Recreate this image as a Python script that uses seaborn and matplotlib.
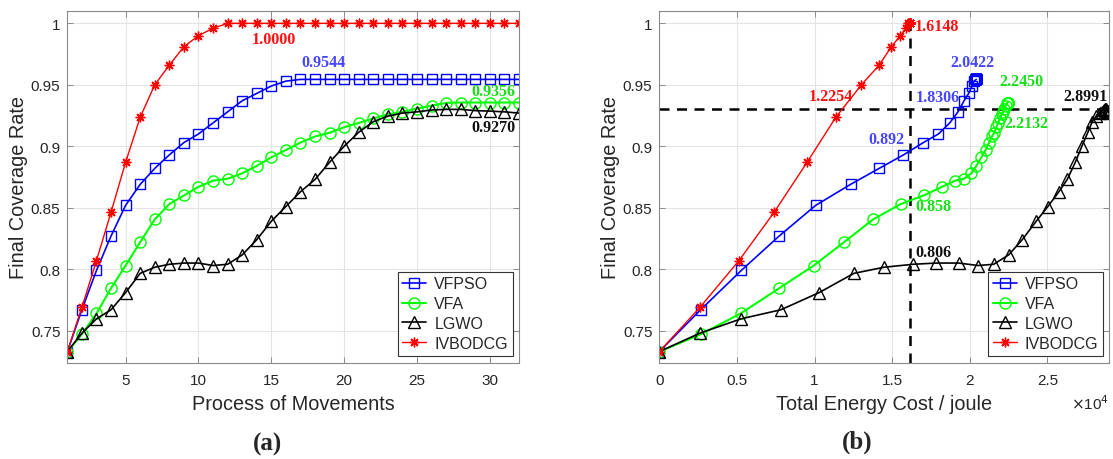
import matplotlib
matplotlib.use("Agg")
import matplotlib.pyplot as plt
import seaborn as sns
import pandas as pd

# ---------------- data ----------------
algorithms = ["VFPSO", "VFA", "LGWO", "IVBODCG"]
movements = list(range(1, 33))

vfpso_cov = [0.733, 0.767, 0.799, 0.827, 0.852, 0.869, 0.882, 0.893, 0.903, 0.910,
             0.919, 0.928, 0.937, 0.943, 0.949, 0.953] + [0.9544] * 16
vfa_cov = [0.733, 0.747, 0.764, 0.7845, 0.803, 0.822, 0.8405, 0.853, 0.860, 0.867,
           0.872, 0.8736, 0.878, 0.884, 0.891, 0.897, 0.903, 0.908, 0.911, 0.9155,
           0.919, 0.9226, 0.926, 0.928, 0.9307, 0.933, 0.9353, 0.9356, 0.9356, 0.9356,
           0.9356, 0.9356]
lgwo_cov = [0.733, 0.748, 0.7596, 0.767, 0.781, 0.7966, 0.8016, 0.804, 0.805, 0.805,
            0.803, 0.804, 0.8116, 0.824, 0.839, 0.851, 0.863, 0.873, 0.887, 0.900,
            0.9114, 0.920, 0.9245, 0.927, 0.928, 0.9295, 0.930, 0.930, 0.929, 0.9286,
            0.928, 0.927]
ivbodcg_cov = [0.733, 0.769, 0.807, 0.8464, 0.887, 0.9236, 0.950, 0.966, 0.981, 0.990,
               0.996] + [1.0] * 21

# total energy cost (x 10^4 joule)
vfpso_energy = [0, 0.266, 0.528, 0.772, 1.008, 1.232, 1.416, 1.573, 1.701, 1.798,
                1.871, 1.924, 1.963, 1.993, 2.014, 2.027] + [2.0422] * 16
vfa_energy = [0, 0.266, 0.524, 0.772, 0.995, 1.19, 1.377, 1.555, 1.703, 1.821,
              1.905, 1.963, 2.010, 2.042, 2.075, 2.102, 2.124, 2.143, 2.158, 2.171,
              2.182, 2.195, 2.205, 2.214, 2.222, 2.231, 2.239, 2.245, 2.245, 2.245,
              2.245, 2.245]
lgwo_energy = [0, 0.262, 0.526, 0.783, 1.030, 1.253, 1.448, 1.634, 1.785, 1.929,
               2.053, 2.154, 2.250, 2.338, 2.428, 2.503, 2.574, 2.628, 2.680, 2.722,
               2.761, 2.789, 2.815, 2.836, 2.852, 2.864, 2.873, 2.880, 2.886, 2.891,
               2.896, 2.8991]
ivbodcg_energy = [0, 0.262, 0.513, 0.74, 0.952, 1.137, 1.302, 1.416, 1.495, 1.553,
                  1.588, 1.605] + [1.6148] * 20

ref_coverage = 0.93
ref_energy = 1.6148

left_notes = ["1.0000", "0.9544", "0.9356", "0.9270"]
right_notes = ["1.6148", "1.2254", "2.0422", "1.8306", "0.892",
               "2.2450", "2.2132", "0.858", "2.8991", "0.806"]

x_ticks_a = [5, 10, 15, 20, 25, 30]
x_ticks_b = [0, 0.5, 1, 1.5, 2, 2.5]
y_ticks = [0.75, 0.8, 0.85, 0.9, 0.95, 1]

# ---------------- styling ----------------
sns.set_theme(style="whitegrid")
plt.rcParams["font.family"] = ["Liberation Sans", "DejaVu Sans"]

colors = {"VFPSO": "#0000ff", "VFA": "#00ff00", "LGWO": "#000000", "IVBODCG": "#ff0000"}
text_colors = {"VFPSO": "#4646ff", "VFA": "#18e018", "LGWO": "#111111", "IVBODCG": "#ff1010"}
markers = {"VFPSO": "s", "VFA": "o", "LGWO": "^", "IVBODCG": (8, 2, 0)}
msizes = {"VFPSO": 6.5, "VFA": 8, "LGWO": 8.5, "IVBODCG": 7}
lws = {"VFPSO": 1.2, "VFA": 1.5, "LGWO": 1.2, "IVBODCG": 1.0}

cov = {"VFPSO": vfpso_cov, "VFA": vfa_cov, "LGWO": lgwo_cov, "IVBODCG": ivbodcg_cov}
energy = {"VFPSO": vfpso_energy, "VFA": vfa_energy, "LGWO": lgwo_energy,
          "IVBODCG": ivbodcg_energy}

fig = plt.figure(figsize=(11.13, 4.60), dpi=100)
axA = fig.add_axes([0.0605, 0.2087, 0.4058, 0.7659])
axB = fig.add_axes([0.5924, 0.2087, 0.4043, 0.7659])


def draw(ax, xs):
    for name in algorithms:
        df = pd.DataFrame({"x": xs[name], "y": cov[name]})
        mfc = colors[name] if name == "IVBODCG" else "none"
        sns.lineplot(data=df, x="x", y="y", ax=ax, estimator=None, sort=False,
                     color=colors[name], lw=lws[name], marker=markers[name],
                     markersize=msizes[name], markerfacecolor=mfc,
                     markeredgecolor=colors[name], markeredgewidth=1.0,
                     label=name)


draw(axA, {k: movements for k in algorithms})
draw(axB, energy)

for ax in (axA, axB):
    ax.set_ylim(0.7237, 1.0103)
    ax.set_yticks(y_ticks)
    ax.set_yticklabels([f"{v:g}" for v in y_ticks])
    ax.grid(True, color="#e4e4e4", lw=0.8)
    for s in ax.spines.values():
        s.set_color("#8a8a8a")
        s.set_linewidth(0.8)
    ax.tick_params(direction="in", length=4, width=0.7, color="#8a8a8a",
                   labelsize=11, labelcolor="#262626", top=True, right=True,
                   bottom=True, left=True, pad=5)
    ax.tick_params(axis="x", pad=7)
    ax.set_ylabel("Final Coverage Rate", fontsize=14.3, color="#262626", labelpad=2)
    leg = ax.legend(loc="lower right", bbox_to_anchor=(0.986, 0.021), borderaxespad=0,
                    fontsize=11.5, frameon=True, fancybox=False, handlelength=1.5,
                    labelspacing=0.3, borderpad=0.3, handletextpad=0.5)
    leg.get_frame().set_edgecolor("#333333")
    leg.get_frame().set_linewidth(0.8)
    leg.get_frame().set_alpha(1)

axA.set_xlim(1, 32)
axA.set_xticks(x_ticks_a)
axA.set_xticklabels([f"{v:g}" for v in x_ticks_a])
axA.set_xlabel("Process of Movements", fontsize=14.3, color="#262626", labelpad=5)

axB.set_xlim(0, 2.8991)
axB.set_xticks(x_ticks_b)
axB.set_xticklabels([f"{v:g}" for v in x_ticks_b])
axB.set_xlabel("Total Energy Cost / joule", fontsize=14.3, color="#262626", labelpad=5)
axB.text(1.0, -0.112, r"$\times$10$^{4}$", transform=axB.transAxes, ha="right",
         va="center", fontsize=11, color="#262626")

# reference lines
axB.axhline(ref_coverage, color="black", ls=(0, (4, 3)), lw=1.8, zorder=1)
axB.vlines(ref_energy, 0.7237, 1.0, color="black", ls=(0, (4, 3)), lw=1.8, zorder=1)

# annotations
serif = dict(family=["Liberation Serif", "DejaVu Serif"], weight="bold", fontsize=11.5)
left_pos = [(15.2, 0.987, "IVBODCG"), (18.6, 0.9684, "VFPSO"),
            (30.27, 0.9448, "VFA"), (30.27, 0.9157, "LGWO")]
for txt, (x, y, name) in zip(left_notes, left_pos):
    axA.text(x, y, txt, color=text_colors[name], ha="center", va="center", **serif)

right_pos = [(1.789, 0.998, "IVBODCG"), (1.105, 0.9407, "IVBODCG"),
             (2.017, 0.9684, "VFPSO"), (1.792, 0.9402, "VFPSO"), (1.463, 0.906, "VFPSO"),
             (2.334, 0.953, "VFA"), (2.366, 0.919, "VFA"), (1.763, 0.8517, "VFA"),
             (2.746, 0.9407, "LGWO"), (1.763, 0.814, "LGWO")]
for txt, (x, y, name) in zip(right_notes, right_pos):
    axB.text(x, y, txt, color=text_colors[name], ha="center", va="center", **serif)

# panel labels
fig.text(0.2405, 0.033, "(a)", ha="center", va="center",
         family=["Liberation Serif", "DejaVu Serif"], weight="bold", fontsize=18)
fig.text(0.7705, 0.039, "(b)", ha="center", va="center",
         family=["Liberation Serif", "DejaVu Serif"], weight="bold", fontsize=18)

fig.savefig("out.png", dpi=100)
